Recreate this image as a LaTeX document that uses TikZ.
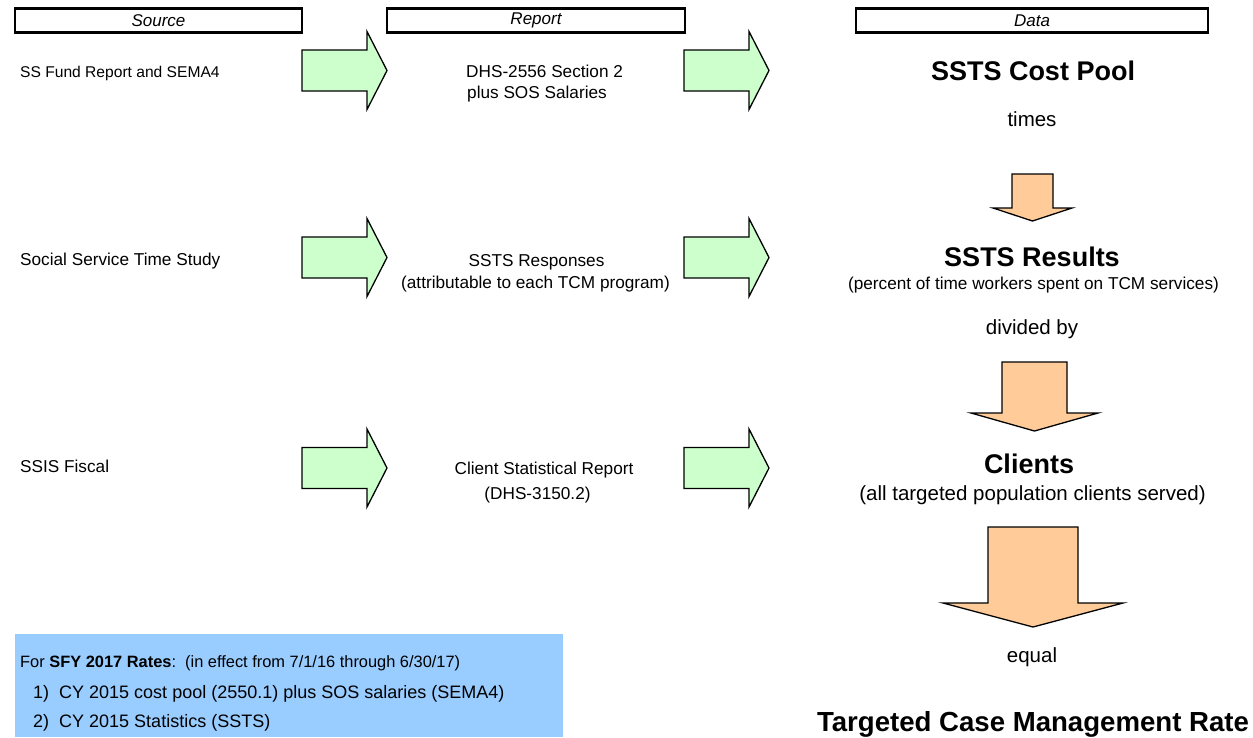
\documentclass[tikz,border=0pt]{standalone}
\usepackage{fontspec}
\setmainfont{Liberation Sans}
\begin{document}
\begin{tikzpicture}[x=1pt,y=-1pt,
  header/.style={draw=black,line width=2.8pt,minimum height=24pt,inner sep=0pt,
    font=\fontsize{17}{19}\selectfont\itshape},
  small/.style={inner sep=0pt,font=\fontsize{17.2}{20}\selectfont},
  mid/.style={inner sep=0pt,font=\fontsize{20.5}{24}\selectfont},
  big/.style={inner sep=0pt,font=\fontsize{27}{32}\selectfont\bfseries},
  note/.style={inner sep=0pt,font=\fontsize{18}{20}\selectfont},
  greenarrow/.style={draw=black,line width=1.3pt,fill=arrowgreen,line join=miter},
  orangearrow/.style={draw=black,line width=1.3pt,fill=arroworange,line join=miter},
  pics/rarrow/.style={code={
    \draw[greenarrow] (0,-20.5) -- (65,-20.5) -- (65,-39) -- (85,0) -- (65,39)
      -- (65,20.5) -- (0,20.5) -- cycle;}}
]
\definecolor{arrowgreen}{HTML}{CCFFCC}
\definecolor{arroworange}{HTML}{FFCC99}
\definecolor{notebg}{HTML}{99CCFF}
\useasboundingbox (0,0) rectangle (1253,737);

% column headers
\node[header,minimum width=287pt] (hsrc) at (158.5,20.5) {Source};
\node[header,minimum width=298pt] (hrep) at (536,20.5) {Report};
\node[header,minimum width=352pt] (hdat) at (1032,20.5) {Data};

% source column
\node[small,anchor=base west,font=\fontsize{15.6}{18}\selectfont] (src1) at (20,77) {SS Fund Report and SEMA4};
\node[small,anchor=base west] (src2) at (20,265) {Social Service Time Study};
\node[small,anchor=base west] (src3) at (20,472) {SSIS Fiscal};

% report column
\node[small,anchor=base west] (rep1a) at (466,77) {DHS-2556 Section 2};
\node[small,anchor=base west] (rep1b) at (467,98) {plus SOS Salaries};
\node[small,anchor=base] (rep2a) at (536.5,266) {SSTS Responses};
\node[small,anchor=base] (rep2b) at (535.5,288) {(attributable to each TCM program)};
\node[small,anchor=base] (rep3a) at (544,474) {Client Statistical Report};
\node[small,anchor=base] (rep3b) at (537.5,499) {(DHS-3150.2)};

% right-pointing arrows between the columns
\pic at (302,70.5) {rarrow};
\pic at (302,257.5) {rarrow};
\pic at (302,468) {rarrow};
\pic at (684,70.5) {rarrow};
\pic at (684,257.5) {rarrow};
\pic at (684,468) {rarrow};

% data column
\node[big,anchor=base] (pool) at (1033,80) {SSTS Cost Pool};
\node[mid,anchor=base] (times) at (1032,126) {times};
\node[big,anchor=base] (results) at (1032,266) {SSTS Results};
\node[small,anchor=base] (resnote) at (1033.5,289) {(percent of time workers spent on TCM services)};
\node[mid,anchor=base] (divby) at (1032,334) {divided by};
\node[big,anchor=base] (clients) at (1029,473) {Clients};
\node[mid,anchor=base] (clnote) at (1032.5,500) {(all targeted population clients served)};
\node[mid,anchor=base] (equal) at (1032,662) {equal};
\node[big,anchor=base,font=\fontsize{27.6}{32}\selectfont\bfseries] (rate) at (1033,731) {Targeted Case Management Rate};

% downward arrows in the data column
\draw[orangearrow] (1012,174) -- (1053,174) -- (1053,208) -- (1072,208) -- (1032.5,221)
  -- (993,208) -- (1012,208) -- cycle;
\draw[orangearrow] (1002,362) -- (1067,362) -- (1067,413) -- (1098,413) -- (1034.5,431)
  -- (971,413) -- (1002,413) -- cycle;
\draw[orangearrow] (988,527) -- (1078,527) -- (1078,603) -- (1123,603) -- (1033,627)
  -- (943,603) -- (988,603) -- cycle;

% rate period note
\fill[notebg] (15,634) rectangle (563,737);
\node[note,anchor=base west,font=\fontsize{16.4}{19}\selectfont] (note0) at (20,667)
  {For \textbf{SFY 2017 Rates}:\ \ (in effect from 7/1/16 through 6/30/17)};
\node[note,anchor=base west] (note1) at (33,698)
  {1)\ \ CY 2015 cost pool (2550.1) plus SOS salaries (SEMA4)};
\node[note,anchor=base west] (note2) at (33,727)
  {2)\ \ CY 2015 Statistics (SSTS)};
\end{tikzpicture}
\end{document}
